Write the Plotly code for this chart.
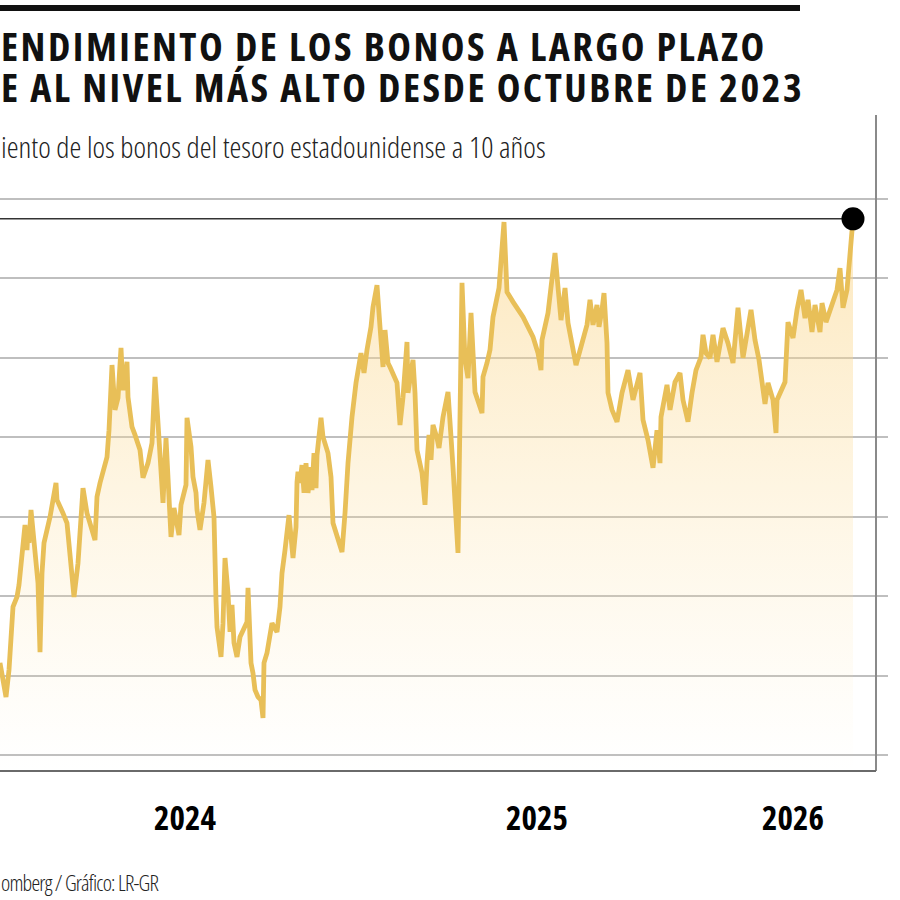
import plotly.graph_objects as go

# Rendimiento del bono a 10 años (%)
dias = [0, 6, 9, 11, 13, 17, 19, 25, 27, 28, 29, 31, 35, 38, 40, 42, 44, 50, 56, 57,
        63, 67, 74, 78, 83, 87, 95, 97, 100, 103, 107, 109, 112, 115, 118, 121, 123, 125, 127, 128,
        132, 135, 140, 143, 148, 152, 155, 158, 163, 166, 168, 171, 174, 177, 179, 181, 186, 187, 191, 193,
        196, 197, 200, 204, 208, 211, 214, 216, 217, 221, 223, 225, 228, 230, 232, 234, 237, 240, 243, 247,
        248, 251, 253, 255, 258, 261, 263, 264, 267, 269, 272, 274, 277, 280, 282, 285, 289, 293, 296, 297,
        298, 300, 302, 304, 306, 308, 311, 312, 314, 316, 317, 321, 323, 328, 331, 333, 337, 342, 345, 348,
        352, 356, 361, 364, 367, 371, 373, 377, 380, 383, 385, 388, 390, 393, 397, 400, 403, 407, 408, 411,
        413, 415, 417, 422, 425, 427, 429, 431, 433, 437, 439, 443, 448, 453, 458, 460, 462, 465, 468, 471,
        473, 475, 482, 483, 487, 490, 493, 499, 504, 507, 513, 523, 533, 538, 541, 542, 548, 555, 558, 561,
        565, 568, 576, 580, 587, 590, 593, 597, 599, 602, 604, 607, 608, 612, 617, 622, 628, 633, 640, 643,
        648, 653, 657, 660, 661, 667, 670, 675, 680, 683, 688, 692, 696, 701, 703, 706, 710, 713, 717, 723,
        728, 733, 738, 743, 747, 751, 755, 759, 765, 768, 773, 776, 777, 785, 788, 793, 797, 801, 805, 808,
        812, 815, 820, 822, 826, 830, 837, 840, 843, 847, 853]

rendimiento = [3.832, 3.746, 3.814, 3.907, 3.973, 3.998, 4.028, 4.179, 4.116, 4.174, 4.134, 4.217, 4.124, 4.033, 3.859, 4.058, 4.134, 4.199, 4.285, 4.242,
               4.209, 4.184, 3.998, 4.083, 4.272, 4.209, 4.141, 4.250, 4.285, 4.310, 4.350, 4.418, 4.582, 4.469, 4.499, 4.625, 4.519, 4.544, 4.590, 4.501,
               4.426, 4.406, 4.368, 4.298, 4.335, 4.386, 4.552, 4.436, 4.235, 4.398, 4.292, 4.149, 4.222, 4.187, 4.154, 4.230, 4.280, 4.449, 4.376, 4.300,
               4.260, 4.217, 4.167, 4.235, 4.343, 4.275, 4.199, 3.990, 3.922, 3.847, 3.932, 4.096, 4.008, 3.910, 3.978, 3.882, 3.847, 3.897, 3.915, 3.935,
               4.021, 3.832, 3.806, 3.764, 3.746, 3.738, 3.693, 3.832, 3.857, 3.882, 3.932, 3.922, 3.910, 3.973, 4.058, 4.116, 4.204, 4.096, 4.174, 4.287,
               4.313, 4.285, 4.330, 4.260, 4.335, 4.260, 4.325, 4.267, 4.360, 4.272, 4.355, 4.449, 4.401, 4.360, 4.300, 4.184, 4.149, 4.111, 4.209, 4.335,
               4.451, 4.537, 4.612, 4.562, 4.620, 4.678, 4.728, 4.783, 4.678, 4.577, 4.670, 4.587, 4.577, 4.557, 4.537, 4.431, 4.501, 4.640, 4.512, 4.562,
               4.595, 4.512, 4.368, 4.310, 4.230, 4.335, 4.406, 4.343, 4.431, 4.398, 4.373, 4.451, 4.514, 4.325, 4.109, 4.451, 4.789, 4.595, 4.549, 4.713,
               4.627, 4.514, 4.461, 4.552, 4.587, 4.620, 4.703, 4.776, 4.942, 4.766, 4.741, 4.703, 4.653, 4.612, 4.569, 4.645, 4.713, 4.864, 4.778, 4.695,
               4.776, 4.688, 4.582, 4.620, 4.683, 4.746, 4.683, 4.733, 4.678, 4.721, 4.763, 4.637, 4.512, 4.469, 4.439, 4.512, 4.569, 4.494, 4.562, 4.444,
               4.393, 4.323, 4.418, 4.335, 4.451, 4.532, 4.469, 4.539, 4.562, 4.494, 4.439, 4.512, 4.569, 4.602, 4.658, 4.612, 4.600, 4.658, 4.590, 4.675,
               4.637, 4.587, 4.726, 4.600, 4.663, 4.721, 4.645, 4.595, 4.484, 4.537, 4.494, 4.411, 4.494, 4.539, 4.690, 4.650, 4.721, 4.771, 4.700, 4.746,
               4.665, 4.733, 4.665, 4.738, 4.690, 4.721, 4.771, 4.826, 4.726, 4.771, 4.950]

anios_pos = [185, 537, 793]
anios_txt = ["2024", "2025", "2026"]
grid_vals = [3.6, 3.8, 4.0, 4.2, 4.4, 4.6, 4.8, 5.0]

FONT = "Open Sans, DejaVu Sans Condensed, sans-serif"
GOLD = "#E8BF58"
Y_RANGE = [3.5597, 5.2115]
X_RANGE = [0, 888]
X_BORDE = 876


def angosto(txt, espacio=0):
    # Open Sans variable: se estrecha con font-stretch
    return f'<span style="font-stretch:75%;letter-spacing:{espacio}px">{txt}</span>'


maximo = max(rendimiento)

fig = go.Figure()

# area + linea
fig.add_trace(go.Scatter(
    x=dias, y=rendimiento,
    mode="lines",
    line=dict(color=GOLD, width=4.8),
    fill="tozeroy",
    fillgradient=dict(type="vertical",
                      colorscale=[[0, "rgba(253,228,170,0)"], [1, "rgba(250,212,135,0.55)"]],
                      start=Y_RANGE[0], stop=maximo),
    hoverinfo="skip",
    showlegend=False,
))

# linea de referencia al nivel maximo
fig.add_trace(go.Scatter(
    x=[dias[0], dias[-1]], y=[maximo, maximo],
    mode="lines",
    line=dict(color="#333333", width=1.5),
    hoverinfo="skip",
    showlegend=False,
))

# ultimo dato
fig.add_trace(go.Scatter(
    x=[dias[-1]], y=[rendimiento[-1]],
    mode="markers",
    marker=dict(color="black", size=23),
    hoverinfo="skip",
    showlegend=False,
))

fig.update_xaxes(
    range=X_RANGE, showgrid=False, zeroline=False, showline=False,
    tickvals=anios_pos, ticktext=[angosto(t) for t in anios_txt], ticks="",
    tickfont=dict(family=FONT, size=33, color="black", weight="bold"),
    ticklabelstandoff=25, automargin=False, fixedrange=True,
)
fig.update_yaxes(
    range=Y_RANGE, tickvals=grid_vals, showticklabels=False, ticks="",
    showgrid=True, gridcolor="#BFBFBF", gridwidth=1.5,
    zeroline=False, showline=False, automargin=False, fixedrange=True,
)

shapes = [
    # borde derecho
    dict(type="line", xref="x", yref="paper", x0=X_BORDE, x1=X_BORDE, y0=0, y1=1,
         line=dict(color="#8A8A8A", width=2)),
    # eje inferior
    dict(type="line", xref="x", yref="paper", x0=0, x1=X_BORDE, y0=0, y1=0,
         line=dict(color="#6A6A6A", width=2)),
    # barra superior
    dict(type="line", xref="paper", yref="paper", x0=0, x1=0.9009, y0=1.1631, y1=1.1631,
         line=dict(color="#111111", width=6)),
]

annotations = [
    dict(text=angosto("ENDIMIENTO DE LOS BONOS A LARGO PLAZO", 2.5), x=0, y=1.1067,
         font=dict(family=FONT, size=40, color="#111111", weight="bold")),
    dict(text=angosto("E AL NIVEL MÁS ALTO DESDE OCTUBRE DE 2023", 2.5), x=0, y=1.0434,
         font=dict(family=FONT, size=40, color="#111111", weight="bold")),
    dict(text=angosto("iento de los bonos del tesoro estadounidense a 10 años"), x=0, y=0.9527,
         font=dict(family=FONT, size=30, color="#222222", weight=300)),
    dict(text=angosto("omberg / Gráfico: LR-GR", -0.8), x=0, y=-0.1692,
         font=dict(family=FONT, size=22, color="#222222", weight=300)),
]
for a in annotations:
    a.update(xref="paper", yref="paper", xanchor="left", yanchor="middle",
             showarrow=False, borderpad=0)

fig.update_layout(
    width=900, height=900,
    margin=dict(l=0, r=12, t=115, b=129),
    paper_bgcolor="white", plot_bgcolor="white",
    shapes=shapes, annotations=annotations,
    showlegend=False,
)

# sin margen del body para que el grafico ocupe toda la ventana
fig.write_html("out.html", config={"displayModeBar": False},
               post_script="document.body.style.margin='0';")
